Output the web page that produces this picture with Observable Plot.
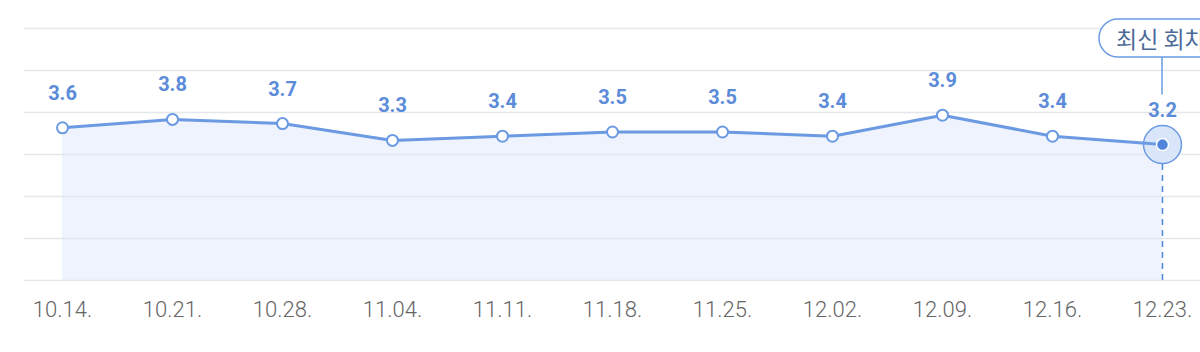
<!DOCTYPE html>
<html>
<head>
<meta charset="utf-8">
<script src="https://cdn.jsdelivr.net/npm/d3@7"></script>
<script src="https://cdn.jsdelivr.net/npm/@observablehq/plot@0.6"></script>
<style>
  html, body { margin: 0; padding: 0; background: #fff; }
  #chart svg { display: block; }
</style>
</head>
<body>
<div id="chart"></div>
<script>
const dates = ["10.14.", "10.21.", "10.28.", "11.04.", "11.11.", "11.18.", "11.25.", "12.02.", "12.09.", "12.16.", "12.23."];
const values = [3.6, 3.8, 3.7, 3.3, 3.4, 3.5, 3.5, 3.4, 3.9, 3.4, 3.2];
const yTicks = [0, 1, 2, 3, 4, 5, 6];
const calloutLabel = "최신 회차";

const data = dates.map((d, i) => ({date: d, value: values[i]}));
const last = data[data.length - 1];
const blue = "#6b9ae3";
const darkBlue = "#4f86d9";

const callout = (index, scales, vals, dims) => {
  const x = scales.x(last.date);
  const py = scales.y(last.value);
  const w = 126, h = 38, top = dims.marginTop - 9;
  const g = d3.create("svg:g");
  g.append("line")
    .attr("x1", x).attr("x2", x)
    .attr("y1", top + h).attr("y2", py - 51)
    .attr("stroke", blue).attr("stroke-width", 1.5);
  g.append("rect")
    .attr("x", x - w / 2).attr("y", top)
    .attr("width", w).attr("height", h)
    .attr("rx", h / 2)
    .attr("fill", "white").attr("stroke", blue).attr("stroke-width", 1.5);
  g.append("text")
    .attr("x", x - 63 + 17).attr("y", top + h / 2)
    .attr("text-anchor", "start")
    .attr("dominant-baseline", "central")
    .attr("font-family", "'Noto Sans CJK KR', sans-serif")
    .attr("font-size", 23)
    .attr("fill", "#4d6b99")
    .text(calloutLabel);
  return g.node();
};

const chart = Plot.plot({
  width: 1200,
  height: 352,
  marginLeft: 24,
  marginRight: 0,
  marginTop: 28,
  marginBottom: 72,
  style: {fontFamily: "Roboto, sans-serif", background: "white", overflow: "hidden"},
  x: {type: "point", domain: dates, padding: 0.34, label: null},
  y: {domain: [0, 6], axis: null},
  marks: [
    Plot.areaY(data, {x: "date", y: "value", fill: "#eef3fd"}),
    Plot.ruleY(yTicks, {stroke: "#e4e7ec", strokeWidth: 1.5}),
    Plot.ruleX([last], {x: "date", y1: 0, y2: "value", stroke: darkBlue, strokeWidth: 1.5, strokeDasharray: "6,5"}),
    Plot.dot([last], {x: "date", y: "value", dy: -1.5, r: 19, fill: "#d9e5f8", stroke: blue, strokeWidth: 1.5}),
    Plot.lineY(data, {x: "date", y: "value", dy: -1.5, stroke: blue, strokeWidth: 3}),
    Plot.dot(data.slice(0, -1), {x: "date", y: "value", dy: -1.5, r: 5.5, fill: "white", stroke: blue, strokeWidth: 2}),
    Plot.dot([last], {x: "date", y: "value", dy: -1.5, r: 6, fill: darkBlue, stroke: "white", strokeWidth: 1.5}),
    Plot.text(data, {x: "date", y: "value", text: d => d.value.toFixed(1), dy: -36, fontSize: 20, fontWeight: "bold", fill: "#5b8bd9"}),
    Plot.axisX({tickSize: 0, tickPadding: 21, fontSize: 22, fontWeight: 300, color: "#666"}),
    callout
  ]
});
document.getElementById("chart").appendChild(chart);
</script>
</body>
</html>
